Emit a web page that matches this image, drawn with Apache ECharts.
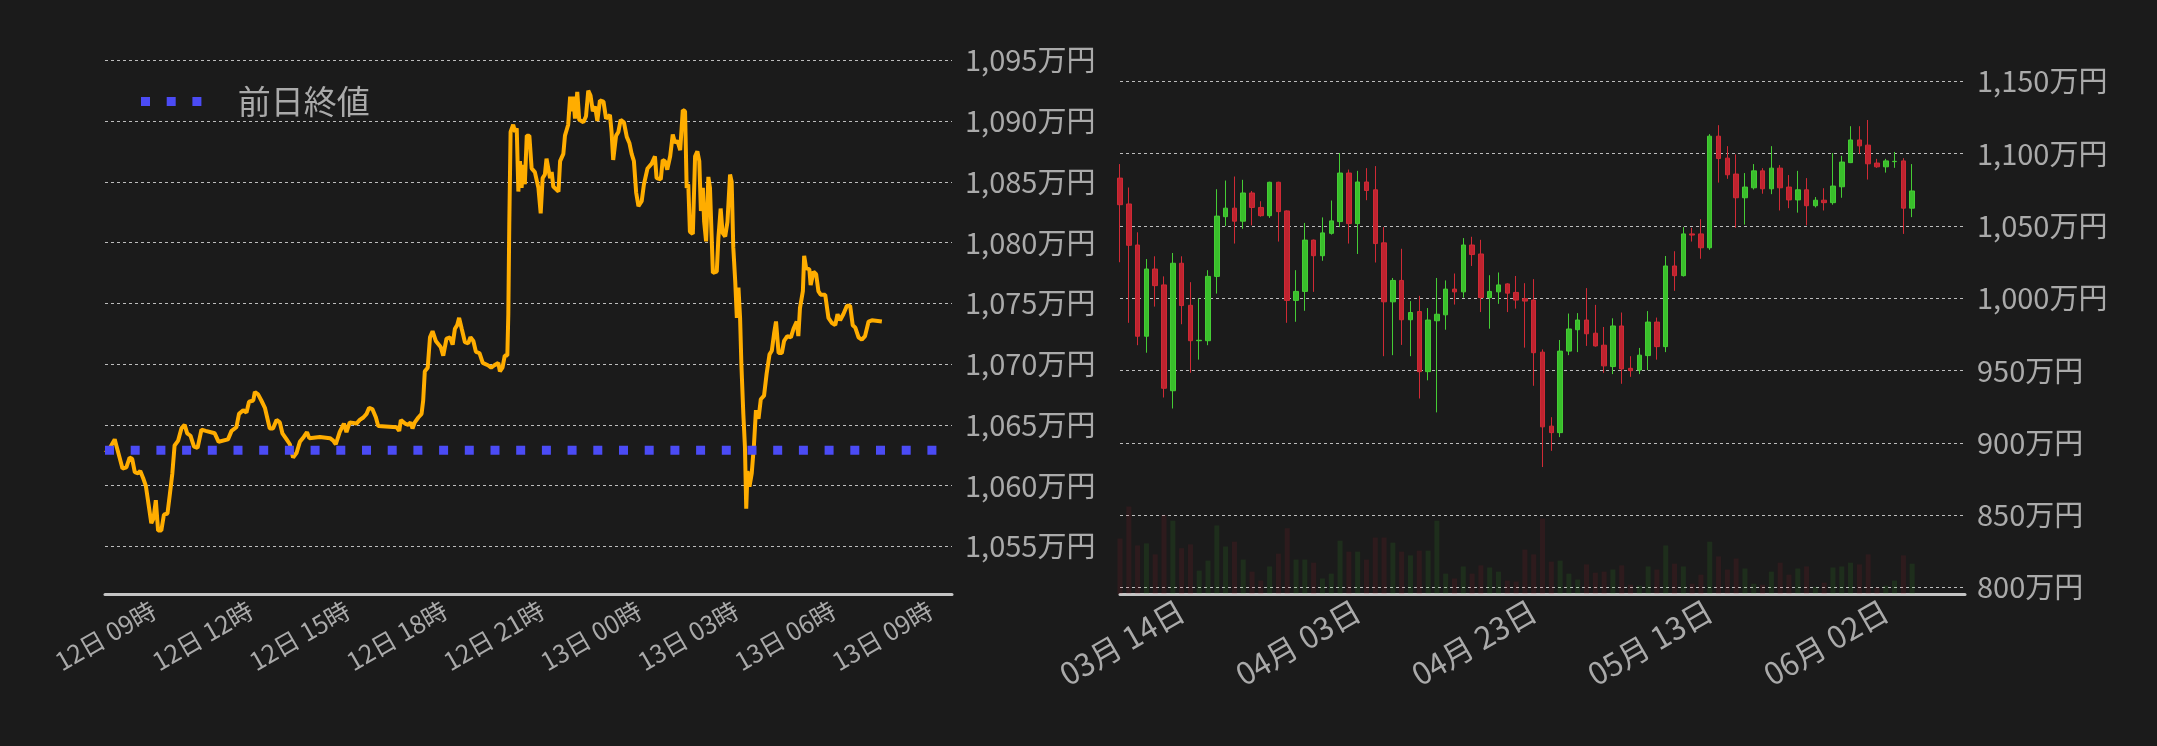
<!DOCTYPE html>
<html><head><meta charset="utf-8">
<script src="https://cdn.jsdelivr.net/npm/echarts@6/dist/echarts.min.js"></script>
<style>html,body{margin:0;padding:0;background:#1b1b1b;}#c{width:2157px;height:746px;}</style>
</head><body><div id="c"></div>
<script>
// ---- Left chart: intraday (hours counted from 12日 00:00) ----
const lineHours = [7.52,7.65,7.80,7.85,7.95,8.04,8.16,8.26,8.34,8.42,8.52,8.59,8.68,8.76,8.86,8.93,9.00,9.07,9.14,9.24,9.32,9.43,9.50,9.58,9.65,9.76,9.86,9.96,10.04,10.14,10.25,10.36,10.48,10.61,10.89,11.01,11.30,11.41,11.56,11.64,11.77,11.87,11.95,12.08,12.13,12.23,12.33,12.44,12.59,12.69,12.80,12.90,12.98,13.11,13.21,13.31,13.42,13.52,13.64,13.74,13.81,14.14,14.45,14.55,14.63,14.75,14.88,14.96,15.06,15.27,15.37,15.48,15.58,15.66,15.76,15.87,15.94,16.51,16.59,16.64,16.77,16.87,16.94,17.00,17.07,17.18,17.28,17.33,17.38,17.47,17.54,17.62,17.72,17.87,17.95,18.05,18.16,18.24,18.31,18.38,18.44,18.52,18.62,18.72,18.79,18.88,18.96,19.07,19.17,19.33,19.43,19.53,19.65,19.70,19.78,19.85,19.93,19.96,19.99,20.03,20.11,20.17,20.22,20.27,20.32,20.37,20.42,20.47,20.53,20.61,20.68,20.78,20.89,20.96,21.02,21.09,21.14,21.25,21.30,21.35,21.51,21.56,21.66,21.71,21.81,21.87,21.92,21.97,22.02,22.09,22.15,22.28,22.36,22.43,22.50,22.57,22.64,22.71,22.79,22.90,22.98,23.10,23.15,23.20,23.29,23.36,23.43,23.53,23.62,23.70,23.77,23.84,23.91,23.98,24.08,24.15,24.26,24.39,24.49,24.54,24.67,24.73,24.80,24.87,24.96,25.04,25.11,25.18,25.27,25.35,25.42,25.47,25.52,25.57,25.66,25.73,25.80,25.86,25.91,25.97,26.01,26.07,26.14,26.19,26.28,26.40,26.45,26.52,26.58,26.66,26.73,26.81,26.86,26.91,26.97,27.02,27.07,27.12,27.16,27.22,27.27,27.31,27.35,27.41,27.48,27.55,27.61,27.69,27.76,27.86,27.94,28.03,28.10,28.17,28.23,28.31,28.41,28.48,28.58,28.69,28.77,28.87,28.92,28.97,29.06,29.10,29.16,29.26,29.30,29.39,29.47,29.54,29.61,29.75,29.85,29.95,30.06,30.13,30.21,30.31,30.42,30.52,30.60,30.68,30.78,30.88,30.98,31.09,31.19,31.50];
const linePrices = [1062.7,1063.1,1063.8,1063.3,1062.3,1061.4,1061.5,1062.3,1062.2,1061.1,1061.0,1061.2,1060.6,1060.0,1058.2,1056.9,1057.3,1058.8,1056.3,1056.3,1057.6,1057.7,1059.2,1061.0,1063.3,1063.7,1064.7,1065.0,1064.3,1064.1,1063.2,1063.1,1064.6,1064.5,1064.3,1063.6,1063.8,1064.5,1064.8,1065.9,1066.2,1066.0,1066.9,1067.0,1067.7,1067.5,1067.0,1066.4,1064.7,1064.7,1065.4,1065.2,1064.3,1063.8,1063.4,1062.3,1062.7,1063.6,1064.0,1064.4,1063.9,1064.0,1063.9,1063.7,1063.4,1064.4,1065.1,1064.4,1065.2,1065.1,1065.4,1065.6,1065.9,1066.4,1066.3,1065.6,1064.9,1064.8,1064.5,1065.4,1065.1,1065.0,1065.2,1064.7,1065.2,1065.6,1065.9,1067.0,1069.4,1069.7,1072.2,1072.7,1071.9,1071.4,1070.7,1072.1,1072.2,1071.6,1072.9,1073.2,1073.8,1072.9,1071.8,1071.7,1072.2,1071.9,1071.0,1070.9,1070.1,1069.9,1069.7,1069.9,1070.1,1069.4,1069.7,1070.7,1070.7,1074.1,1081.5,1089.1,1089.7,1089.1,1089.4,1084.2,1086.7,1084.5,1086.4,1084.8,1088.8,1088.8,1086.1,1085.8,1084.5,1082.4,1085.3,1085.6,1086.9,1085.3,1085.8,1084.6,1084.2,1086.7,1087.3,1088.8,1089.7,1092.0,1090.8,1092.0,1090.2,1092.4,1090.1,1089.9,1090.4,1092.5,1092.1,1090.8,1091.2,1090.0,1091.7,1091.6,1090.2,1090.5,1089.1,1086.8,1088.8,1089.1,1090.1,1089.9,1088.7,1088.2,1087.3,1086.7,1084.1,1083.0,1083.4,1084.8,1086.1,1086.5,1087.1,1085.3,1085.2,1086.8,1086.7,1086.0,1087.1,1088.9,1088.2,1088.4,1087.6,1090.9,1090.8,1084.5,1084.8,1080.9,1080.7,1087.1,1087.5,1086.7,1082.6,1084.5,1081.7,1080.1,1085.4,1084.5,1077.5,1077.6,1080.4,1082.8,1080.8,1080.5,1081.7,1085.6,1085.0,1079.6,1076.8,1073.8,1076.3,1073.8,1070.0,1065.9,1063.2,1058.1,1061.2,1059.9,1061.0,1063.4,1066.2,1065.5,1067.1,1067.4,1069.2,1070.8,1071.1,1072.5,1073.5,1070.9,1070.9,1071.9,1072.3,1072.2,1072.9,1073.5,1072.3,1074.6,1076.0,1078.9,1077.9,1077.8,1076.5,1077.6,1077.4,1076.0,1075.7,1075.7,1073.8,1073.4,1073.2,1074.1,1073.6,1074.1,1074.8,1074.8,1073.2,1073.0,1072.2,1072.0,1072.3,1073.5,1073.6,1073.5];
const prevClose = 1062.9;
const prevCloseName = '前日終値';
const leftRange = [7.5, 33.667];          // 12日 07:30 -> 13日 09:40
const leftTickHours = [9, 12, 15, 18, 21, 24, 27, 30, 33];
const leftYRange = [1055, 1095];

// ---- Right chart: daily candles ----
const dates = ['03/07','03/08','03/09','03/10','03/11','03/12','03/13','03/14','03/15','03/16','03/17','03/18','03/19','03/20','03/21','03/22','03/23','03/24','03/25','03/26','03/27','03/28','03/29','03/30','03/31',
'04/01','04/02','04/03','04/04','04/05','04/06','04/07','04/08','04/09','04/10','04/11','04/12','04/13','04/14','04/15','04/16','04/17','04/18','04/19','04/20','04/21','04/22','04/23','04/24','04/25','04/26','04/27','04/28','04/29','04/30',
'05/01','05/02','05/03','05/04','05/05','05/06','05/07','05/08','05/09','05/10','05/11','05/12','05/13','05/14','05/15','05/16','05/17','05/18','05/19','05/20','05/21','05/22','05/23','05/24','05/25','05/26','05/27','05/28','05/29','05/30','05/31',
'06/01','06/02','06/03','06/04','06/05'];
const opens = [1083.1,1065.2,1036.8,973.7,1020.2,1009.2,936.0,1024.2,995.1,970.6,970.6,1015.1,1056.4,1062.3,1053.3,1072.8,1062.8,1057.1,1080.2,1060.4,998.5,1004.7,1040.2,1029.4,1044.9,1053.0,1086.6,1051.6,1080.4,1075.0,1038.3,997.5,1012.3,985.1,990.8,949.2,984.4,988.5,1006.3,1004.4,1036.8,1030.6,1000.4,1004.4,1009.9,1004.0,999.7,998.7,962.7,911.5,907.0,963.4,978.2,984.9,975.8,967.5,952.7,980.8,951.5,950.3,960.3,983.5,966.5,1022.3,1015.6,1044.5,1044.5,1034.9,1112.1,1096.9,1085.9,1069.5,1076.4,1088.1,1075.7,1090.0,1076.9,1068.0,1075.0,1064.0,1067.8,1066.1,1077.1,1093.8,1109.5,1105.9,1093.5,1090.9,1094.5,1095.0,1062.3];
const closes = [1064.7,1036.6,973.7,1020.2,1008.7,937.7,1024.2,994.9,970.6,970.9,1015.1,1056.8,1062.3,1053.3,1072.8,1062.8,1057.1,1080.2,1059.9,998.5,1004.7,1040.2,1029.4,1045.2,1053.5,1086.6,1051.6,1080.4,1074.5,1037.8,997.5,1012.3,985.1,990.1,949.2,984.9,988.9,1006.3,1004.4,1036.8,1030.2,1000.4,1004.7,1009.2,1003.5,998.7,998.0,962.3,911.0,907.0,963.4,978.7,984.9,975.4,967.0,953.2,980.8,951.1,949.9,960.6,983.5,966.5,1022.3,1015.6,1044.5,1043.7,1034.9,1112.1,1096.6,1085.4,1069.5,1076.9,1088.1,1075.7,1090.0,1076.4,1068.0,1075.0,1064.0,1067.8,1066.1,1077.6,1094.2,1109.5,1105.4,1093.0,1090.9,1095.0,1094.7,1062.3,1074.2];
const lows = [1024.9,983.0,967.5,962.3,994.2,931.3,923.7,982.0,948.4,957.5,967.5,1003.2,1049.9,1037.8,1048.0,1050.4,1056.4,1055.6,1039.2,983.0,983.7,991.3,1004.4,1025.9,1044.0,1049.2,1037.8,1030.6,1067.8,1024.7,959.9,960.6,967.7,959.9,930.6,943.2,921.0,978.2,995.6,1000.4,1022.3,990.4,978.9,996.1,990.4,992.8,965.8,939.4,883.2,894.4,903.9,960.6,962.7,967.0,966.5,948.4,947.5,940.8,945.6,947.5,950.3,957.5,962.7,1005.1,1015.0,1039.2,1027.3,1033.5,1080.0,1082.6,1048.7,1050.9,1075.2,1072.3,1072.0,1060.7,1062.3,1059.2,1050.4,1062.8,1060.7,1064.7,1069.5,1093.5,1100.0,1082.1,1090.2,1086.9,1090.2,1044.5,1056.1];
const highs = [1092.8,1076.6,1045.6,1027.1,1029.0,1015.1,1031.3,1029.0,1011.1,999.9,1019.4,1075.4,1081.4,1084.2,1081.9,1074.2,1067.1,1080.6,1080.6,1060.8,1019.4,1052.1,1040.6,1055.9,1067.6,1100.4,1089.0,1088.1,1090.0,1091.4,1049.2,1014.0,1034.2,998.0,1001.6,993.2,1014.0,1012.3,1017.1,1041.6,1042.5,1040.4,1015.9,1017.8,1010.4,1015.4,1010.4,1013.2,964.6,917.7,971.1,989.4,989.7,1007.0,995.4,980.1,986.1,990.1,959.9,965.6,991.1,986.6,1029.2,1032.5,1049.2,1048.7,1054.7,1113.5,1119.7,1105.2,1099.5,1086.6,1092.8,1090.0,1105.2,1092.1,1085.2,1088.1,1083.1,1070.0,1076.1,1100.4,1098.5,1119.0,1119.0,1123.3,1096.4,1096.4,1101.2,1096.9,1092.8];
const volumes = [161,254,141,147,115,229,213,133,144,68,97,199,138,152,100,65,39,80,117,191,100,100,91,45,59,155,123,123,100,164,164,149,123,112,126,126,213,59,45,80,59,83,77,65,39,36,129,115,219,94,97,59,42,86,62,65,71,83,27,24,80,71,141,88,80,30,56,152,109,71,103,74,30,27,65,91,56,74,80,21,33,77,80,91,86,115,19,24,39,112,88];
const rightTickIdx = [7, 27, 47, 67, 87];
const rightYRange = [800, 1150];
const rightSlots = 96;

const FONT = 'Noto Sans CJK JP';
const LABEL = '#aaaaaa';
const GRIDLINE = '#bdbdbd';
const AXISLINE = '#c4c4c4';
const UP = '#39bf2b', DOWN = '#c0232f';

function yen(v) {
  return String(Math.round(v)).replace(/\B(?=(\d{3})+(?!\d))/g, ',') + '万円';
}
function pad(n) { return (n < 10 ? '0' : '') + n; }

const candleData = dates.map((d, i) => [i, opens[i], closes[i], lows[i], highs[i]]);
const volData = volumes.map((v, i) => [i, v]);
const lineData = lineHours.map((h, i) => [h, linePrices[i]]);

const chart = echarts.init(document.getElementById('c'), null, {renderer: 'canvas'});
const splitLine = {show: true, lineStyle: {color: GRIDLINE, width: 1, type: [3, 3]}};

chart.setOption({
  backgroundColor: '#1b1b1b',
  animation: false,
  textStyle: {fontFamily: FONT},
  legend: {
    left: 136, top: 80,
    selectedMode: false,
    itemWidth: 61, itemHeight: 9,
    data: [{name: prevCloseName, icon: 'path://M0,0h9v9h-9zM25.7,0h9v9h-9zM51.4,0h9v9h-9z'}],
    textStyle: {color: LABEL, fontSize: 33, fontFamily: FONT, padding: [0, 0, 0, 31]}
  },
  grid: [
    {left: 105, top: 60.3, width: 847, height: 486},
    {left: 1120, top: 81.4, width: 845, height: 505.9},
    {left: 1120, bottom: 152, width: 845, height: 103.3}
  ],
  xAxis: [
    {
      gridIndex: 0, type: 'value', min: leftRange[0], max: leftRange[1], offset: 47.7,
      axisLine: {show: true, onZero: false, lineStyle: {color: AXISLINE, width: 3}},
      axisTick: {show: false}, splitLine: {show: false},
      axisLabel: {
        customValues: leftTickHours, rotate: 30, margin: 14, color: LABEL, fontSize: 25, fontFamily: FONT,
        formatter: v => (12 + Math.floor(v / 24)) + '日 ' + pad(Math.round(v) % 24) + '時'
      }
    },
    {
      gridIndex: 1, type: 'value', min: 0, max: rightSlots,
      axisLine: {show: false}, axisTick: {show: false}, axisLabel: {show: false}, splitLine: {show: false}
    },
    {
      gridIndex: 2, type: 'value', min: 0, max: rightSlots,
      axisLine: {show: true, onZero: false, lineStyle: {color: AXISLINE, width: 3}},
      axisTick: {show: false}, splitLine: {show: false},
      axisLabel: {
        customValues: rightTickIdx, rotate: 30, margin: 14, color: LABEL, fontSize: 31, fontFamily: FONT,
        formatter: v => { const d = dates[Math.round(v)] || ''; const p = d.split('/'); return p[0] + '月 ' + p[1] + '日'; }
      }
    }
  ],
  yAxis: [
    {
      gridIndex: 0, type: 'value', position: 'right', min: leftYRange[0], max: leftYRange[1], interval: 5,
      axisLine: {show: false}, axisTick: {show: false}, splitLine: splitLine,
      axisLabel: {margin: 13, color: LABEL, fontSize: 29, fontFamily: FONT, formatter: yen}
    },
    {
      gridIndex: 1, type: 'value', position: 'right', min: rightYRange[0], max: rightYRange[1], interval: 50,
      axisLine: {show: false}, axisTick: {show: false}, splitLine: splitLine,
      axisLabel: {margin: 12, color: LABEL, fontSize: 29, fontFamily: FONT, formatter: yen}
    },
    {
      gridIndex: 2, type: 'value', min: 0, max: 300, show: false, splitLine: {show: false}
    }
  ],
  series: [
    {
      name: 'price', type: 'line', xAxisIndex: 0, yAxisIndex: 0, data: lineData,
      symbol: 'none', lineStyle: {color: '#ffad00', width: 4}, z: 3
    },
    {
      name: prevCloseName, type: 'line', xAxisIndex: 0, yAxisIndex: 0,
      data: [[leftRange[0], prevClose], [leftRange[1], prevClose]],
      symbol: 'none', color: '#4b4bf5',
      lineStyle: {color: '#4b4bf5', width: 9, type: [9, 16.7], cap: 'butt'}, z: 4
    },
    {
      name: 'volume', type: 'bar', xAxisIndex: 2, yAxisIndex: 2, data: volData, barWidth: 5, z: 1,
      itemStyle: {color: p => closes[p.dataIndex] >= opens[p.dataIndex] ? 'rgba(57,191,43,0.12)' : 'rgba(192,35,47,0.12)'}
    },
    {
      name: 'candle', type: 'candlestick', xAxisIndex: 1, yAxisIndex: 1, data: candleData, barWidth: 5,
      itemStyle: {color: UP, color0: DOWN, borderColor: '#45cc35', borderColor0: '#cf2a35', borderWidth: 1}
    }
  ]
});
</script>
</body></html>
